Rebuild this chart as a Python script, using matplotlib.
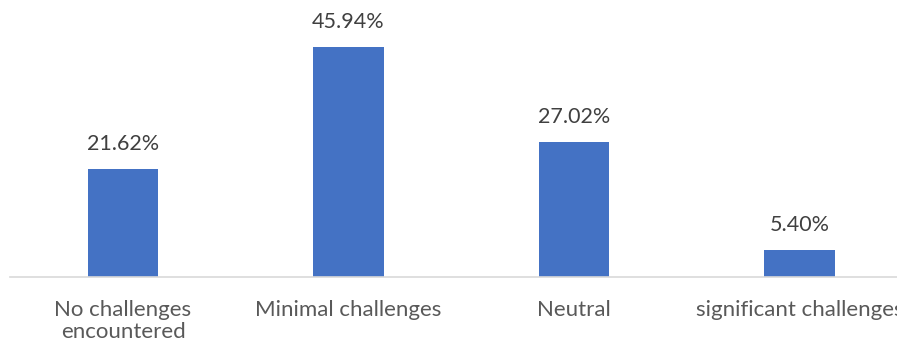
import matplotlib
matplotlib.use("Agg")
import matplotlib.pyplot as plt

categories = ["No challenges\nencountered", "Minimal challenges", "Neutral", "significant challenges"]
values = [21.62, 45.94, 27.02, 5.40]
labels = ["21.62%", "45.94%", "27.02%", "5.40%"]

plt.rcParams['font.family'] = ['Lato', 'DejaVu Sans']

W, H = 897, 347
fig = plt.figure(figsize=(W/100, H/100), dpi=100)
left_px, right_px = 10.25, 912.25
bottom_px = H - 276.5
top_px = H - (276.5 - 50 * 4.985)
ax = fig.add_axes([left_px / W, bottom_px / H, (right_px - left_px) / W, (top_px - bottom_px) / H])

x = range(len(categories))
ax.bar(x, values, width=0.3126, color="#4472C4", zorder=2)
ax.set_xlim(-0.5, 3.5)
ax.set_ylim(0, 50)

for xi, v, lab in zip(x, values, labels):
    ax.annotate(lab, (xi, v), xytext=(0, 18), textcoords="offset points",
                ha="center", va="center", fontsize=15.5, color="#404040",
                annotation_clip=False)

ax.set_xticks(list(x))
ax.set_xticklabels(categories, fontsize=16, color="#595959", linespacing=1.12)
ax.tick_params(axis="x", length=0, pad=17)
ax.set_yticks([])
for s in ["top", "left", "right"]:
    ax.spines[s].set_visible(False)
ax.spines["bottom"].set_color("#D9D9D9")
ax.spines["bottom"].set_linewidth(1.2)

fig.savefig("out.png", dpi=100)
